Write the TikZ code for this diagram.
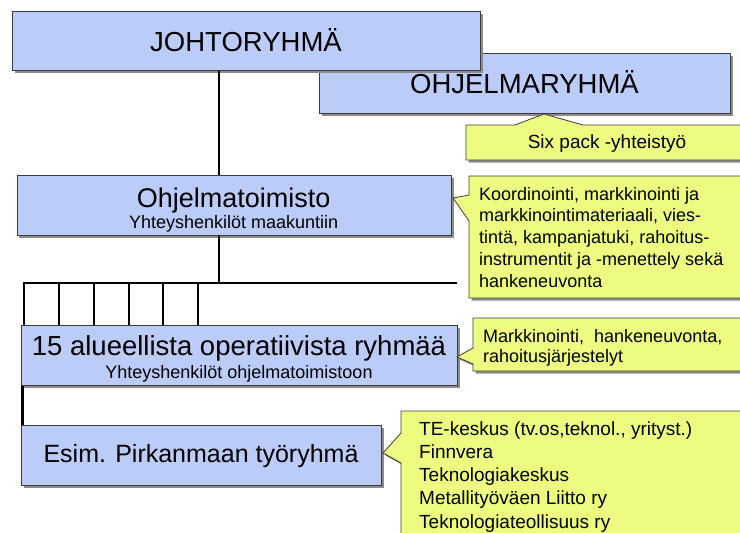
\documentclass[tikz,border=0pt]{standalone}
\usepackage{fontspec}
\setmainfont{Liberation Sans}
\usetikzlibrary{shadows}
\definecolor{boxblue}{RGB}{187,204,249}
\definecolor{noteyellow}{RGB}{237,252,128}
\definecolor{edgegray}{RGB}{60,60,60}
\begin{document}
\begin{tikzpicture}[x=1pt,y=-1pt,
  shade/.style={drop shadow={shadow xshift=2.5pt,shadow yshift=-2.5pt,fill=black!45,opacity=1}},
  bluebox/.style={draw=edgegray,line width=0.8pt,fill=boxblue,shade,inner sep=0pt,anchor=north west},
  notebox/.style={draw=edgegray,line width=0.8pt,fill=noteyellow,shade},
  conn/.style={line width=2.2pt,black},
  bigtxt/.style={font=\fontsize{27.5}{32}\selectfont,inner sep=0pt,anchor=base},
  smalltxt/.style={font=\fontsize{18}{21.7}\selectfont,inner sep=0pt},
  notetxt/.style={inner sep=0pt,anchor=north west,align=left}]
\useasboundingbox (0,0) rectangle (740,533);
\clip (0,0) rectangle (740,533);
\fill[white] (0,0) rectangle (740,533);

% connectors' named points
\coordinate (trunk1) at (219,0);
\coordinate (trunk2) at (22.5,0);
\coordinate (busL) at (23,283);
\coordinate (busR) at (457,283);

% top boxes
\node[bluebox,minimum width=411pt,minimum height=60pt] (ohj) at (319,53) {};
\node[bigtxt] (ohjT) at (524.5,93) {OHJELMARYHMÄ};
\node[bluebox,minimum width=468pt,minimum height=59pt] (johto) at (12,11) {};
\node[bigtxt] (johtoT) at (246,51) {JOHTORYHMÄ};

% Ohjelmatoimisto
\node[bluebox,minimum width=434.5pt,minimum height=60pt] (otoim) at (16.5,175) {};
\node[bigtxt,font=\fontsize{27}{32}\selectfont] (otoimT) at (233.6,207) {Ohjelmatoimisto};
\node[smalltxt,anchor=base] (otoimS) at (233.6,228.5) {Yhteyshenkilöt maakuntiin};

% operative groups
\node[bluebox,minimum width=436pt,minimum height=60pt] (ops) at (21,325) {};
\node[bigtxt] (opsT) at (239,355.5) {15 alueellista operatiivista ryhmää};
\node[smalltxt,anchor=base] (opsS) at (239,378.5) {Yhteyshenkilöt ohjelmatoimistoon};

% Pirkanmaa
\node[bluebox,minimum width=360pt,minimum height=60pt] (esim) at (21,425) {};
\node[bigtxt,font=\fontsize{25}{30}\selectfont] (esimT) at (201,462) {Esim. Pirkanmaan työryhmä};

% connectors
\draw[conn] (trunk1 |- johto.south) -- (trunk1 |- otoim.north);
\draw[conn] (trunk1 |- otoim.south) -- (trunk1 |- busL);
\draw[conn] (busL) -- (busR);
\foreach \x in {24,59,94,129,163,198}
  \draw[conn] (\x,283) -- (\x,0 |- ops.north);
\draw[conn] (trunk2 |- ops.south) -- (trunk2 |- esim.north);

% callouts
\path[notebox] (466,125) -- (515,125) -- (544,114) -- (583,125) -- (748,125)
  -- (748,160) -- (466,160) -- cycle;
\node[smalltxt,font=\fontsize{19}{22}\selectfont,anchor=base] (c1) at (607,148) {Six pack -yhteistyö};

\path[notebox] (469,176) -- (748,176) -- (748,298) -- (469,298) -- (469,221)
  -- (453,198) -- (469,195) -- cycle;
\node[notetxt,font=\fontsize{18}{21.7}\selectfont] (c2) at (479,185)
  {\rule{0pt}{15pt}Koordinointi, markkinointi ja\\markkinointimateriaali, vies-\\tintä, kampanjatuki, rahoitus-\\instrumentit ja -menettely sekä\\hankeneuvonta};

\path[notebox] (473,318) -- (748,318) -- (748,371) -- (473,371) -- (473,364)
  -- (457,357) -- (473,348) -- cycle;
\node[notetxt,font=\fontsize{18}{20.5}\selectfont] (c3) at (483,327)
  {\rule{0pt}{15pt}Markkinointi,\ \ hankeneuvonta,\\rahoitusjärjestelyt};

\path[notebox] (401,411) -- (748,411) -- (748,545) -- (401,545) -- (401,463)
  -- (383,453) -- (401,433) -- cycle;
\node[notetxt,font=\fontsize{19}{23.25}\selectfont] (c4) at (419,419.5)
  {\rule{0pt}{15.5pt}TE-keskus (tv.os,teknol., yrityst.)\\Finnvera\\Teknologiakeskus\\Metallityöväen Liitto ry\\Teknologiateollisuus ry};
\end{tikzpicture}
\end{document}
